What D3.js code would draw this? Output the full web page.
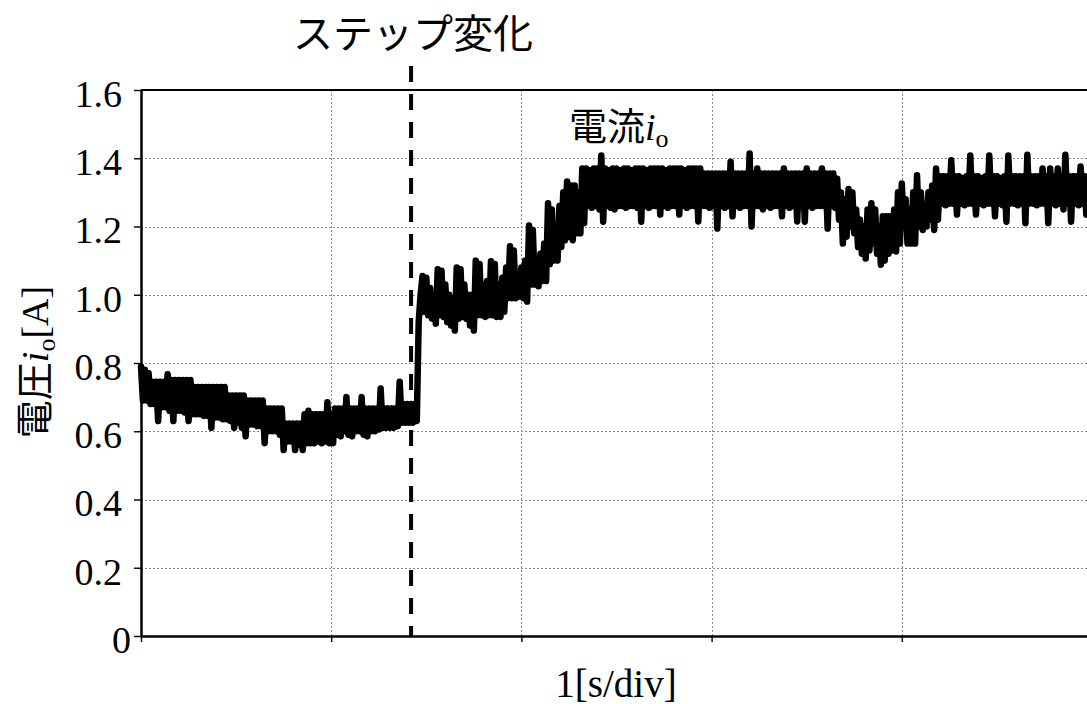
<!DOCTYPE html>
<html>
<head>
<meta charset="utf-8">
<script src="https://cdn.jsdelivr.net/npm/d3@7"></script>
<style>
  html, body { margin: 0; padding: 0; background: #fff; }
  svg { display: block; }
  text { font-family: "Liberation Serif", "Times New Roman", "Noto Sans CJK JP", serif; fill: #000; }
</style>
</head>
<body>
<svg id="chart" width="1087" height="704"></svg>
<script>
// Output current i_o [A], one sample every 10 ms over five 1 s divisions
const sampleInterval = 0.01;
const ioValues = [
  // 0.00 - 0.73 s : before the step
  0.79, 0.69, 0.78, 0.69, 0.77, 0.68, 0.745, 0.68, 0.745, 0.63,
  0.745, 0.67, 0.745, 0.67, 0.767, 0.66, 0.75, 0.63, 0.75, 0.66,
  0.75, 0.66, 0.75, 0.655, 0.75, 0.63, 0.75, 0.65, 0.73, 0.65,
  0.73, 0.65, 0.73, 0.645, 0.73, 0.645, 0.73, 0.61, 0.73, 0.64,
  0.73, 0.64, 0.73, 0.635, 0.73, 0.635, 0.705, 0.63, 0.705, 0.61,
  0.705, 0.625, 0.705, 0.61, 0.705, 0.585, 0.69, 0.62, 0.69, 0.62,
  0.69, 0.615, 0.69, 0.615, 0.69, 0.565, 0.667, 0.60, 0.667, 0.60,
  0.667, 0.60, 0.667, 0.59, 0.667, 0.545, 0.623, 0.57, 0.623, 0.57,
  0.623, 0.545, 0.623, 0.56, 0.623, 0.545, 0.65, 0.565, 0.66, 0.565,
  0.65, 0.565, 0.65, 0.57, 0.65, 0.565, 0.65, 0.57, 0.685, 0.565,
  0.65, 0.565, 0.667, 0.59, 0.667, 0.585, 0.667, 0.60, 0.70, 0.59,
  0.667, 0.585, 0.667, 0.60, 0.667, 0.60, 0.70, 0.59, 0.667, 0.585,
  0.667, 0.60, 0.667, 0.60, 0.667, 0.605, 0.725, 0.61, 0.667, 0.61,
  0.667, 0.61, 0.667, 0.61, 0.667, 0.615, 0.745, 0.625, 0.68, 0.625,
  0.68, 0.625, 0.68, 0.625, 0.68, 0.63,
  // step response
  0.92, 1.00,
  1.055, 0.95, 1.05, 0.94, 1.02, 0.93, 1.00, 0.915, 1.075, 0.94,
  1.07, 0.935, 1.03, 0.92, 1.00, 0.91, 0.99, 0.895, 1.08, 0.93,
  1.075, 0.935, 1.03, 0.93, 1.00, 0.91, 1.00, 0.895, 1.10, 0.94,
  1.09, 0.94, 1.03, 0.935, 1.04, 0.94, 1.098, 0.94, 1.09, 0.935,
  1.03, 0.935, 1.05, 0.95, 1.08, 0.99, 1.142, 0.99, 1.13, 0.99,
  1.06, 0.995, 1.08, 0.99, 1.10, 0.98, 1.203, 1.03, 1.19, 1.03,
  1.10, 1.025, 1.12, 1.04, 1.15, 1.04, 1.268, 1.09, 1.25, 1.10,
  1.18, 1.10, 1.26, 1.14, 1.30, 1.16, 1.332, 1.17, 1.32, 1.16,
  1.32, 1.18, 1.30, 1.18, 1.37, 1.21,
  // settled
  1.37, 1.26, 1.365, 1.255, 1.37, 1.26, 1.37, 1.25, 1.408, 1.214,
  1.37, 1.26, 1.365, 1.255, 1.37, 1.25, 1.37, 1.26, 1.365, 1.26,
  1.37, 1.255, 1.37, 1.26, 1.365, 1.26, 1.37, 1.255, 1.37, 1.214,
  1.37, 1.26, 1.365, 1.255, 1.37, 1.26, 1.37, 1.26, 1.37, 1.235,
  1.37, 1.26, 1.365, 1.255, 1.37, 1.26, 1.37, 1.26, 1.37, 1.235,
  1.37, 1.26, 1.365, 1.255, 1.37, 1.26, 1.37, 1.26, 1.37, 1.215,
  1.37, 1.26, 1.355, 1.26, 1.355, 1.255, 1.355, 1.26, 1.355, 1.194,
  1.355, 1.26, 1.355, 1.255, 1.355, 1.26, 1.39, 1.23, 1.355, 1.26,
  1.355, 1.255, 1.355, 1.26, 1.355, 1.26, 1.414, 1.20, 1.355, 1.26,
  1.37, 1.26, 1.355, 1.25, 1.355, 1.26, 1.355, 1.255, 1.355, 1.26,
  1.355, 1.26, 1.355, 1.23, 1.37, 1.26, 1.355, 1.255, 1.355, 1.26,
  1.355, 1.215, 1.355, 1.26, 1.355, 1.214, 1.37, 1.26, 1.355, 1.255,
  1.355, 1.26, 1.355, 1.26, 1.37, 1.26, 1.355, 1.194, 1.355, 1.26,
  1.355, 1.255, 1.34, 1.22,
  // load disturbance around 3.6 s
  1.30, 1.15, 1.28, 1.17, 1.31, 1.20, 1.30, 1.18, 1.25, 1.14,
  1.22, 1.12, 1.20, 1.106, 1.25, 1.13, 1.268, 1.15, 1.25, 1.12,
  1.20, 1.088, 1.23, 1.10, 1.23, 1.12, 1.23, 1.13, 1.25, 1.127,
  1.30, 1.15, 1.326, 1.20, 1.28, 1.15, 1.25, 1.15, 1.30, 1.15,
  1.35, 1.20, 1.30, 1.19, 1.26, 1.20, 1.30, 1.22, 1.32, 1.19,
  1.37, 1.22,
  // recovered
  1.347, 1.267, 1.347, 1.262, 1.347, 1.267, 1.394, 1.267, 1.347, 1.235,
  1.347, 1.267, 1.342, 1.262, 1.347, 1.267, 1.408, 1.267, 1.347, 1.235,
  1.347, 1.267, 1.342, 1.262, 1.347, 1.267, 1.408, 1.267, 1.347, 1.23,
  1.347, 1.267, 1.342, 1.262, 1.347, 1.214, 1.408, 1.267, 1.347, 1.267,
  1.347, 1.262, 1.347, 1.267, 1.347, 1.21, 1.41, 1.267, 1.347, 1.267,
  1.347, 1.262, 1.347, 1.267, 1.37, 1.267, 1.347, 1.21, 1.37, 1.267,
  1.347, 1.262, 1.37, 1.267, 1.347, 1.25, 1.41, 1.267, 1.347, 1.214,
  1.347, 1.267, 1.347, 1.262, 1.376, 1.267, 1.347, 1.235, 1.347, 1.267,
  1.347
];

// Moment of the step change (s)
const stepTime = 1.42;

const yTickValues = [0, 0.2, 0.4, 0.6, 0.8, 1.0, 1.2, 1.4, 1.6];
const yTickLabels = ["0", "0.2", "0.4", "0.6", "0.8", "1.0", "1.2", "1.4", "1.6"];
const xTickValues = [0, 1, 2, 3, 4, 5];

const svg = d3.select("#chart");
const plot = { left: 141, right: 1092, top: 90, bottom: 636 };

const x = d3.scaleLinear().domain([0, 5]).range([plot.left, plot.right]);
const y = d3.scaleLinear().domain([0, 1.6]).range([plot.bottom, plot.top]);

// Dotted grid
const grid = svg.append("g").attr("stroke", "#8a8a8a").attr("stroke-width", 1)
  .attr("stroke-dasharray", "2,2").attr("fill", "none");
grid.selectAll("line.h").data(yTickValues.filter(v => v > 0 && v < 1.6)).join("line")
  .attr("class", "h")
  .attr("x1", plot.left).attr("x2", plot.right)
  .attr("y1", d => Math.round(y(d)) + 0.5).attr("y2", d => Math.round(y(d)) + 0.5);
grid.selectAll("line.v").data(xTickValues.filter(v => v > 0)).join("line")
  .attr("class", "v")
  .attr("y1", plot.top).attr("y2", plot.bottom)
  .attr("x1", d => Math.round(x(d)) + 0.5).attr("x2", d => Math.round(x(d)) + 0.5);

// Top frame line
svg.append("line")
  .attr("x1", plot.left).attr("x2", plot.right)
  .attr("y1", y(1.6)).attr("y2", y(1.6))
  .attr("stroke", "#000").attr("stroke-width", 2);

// Y axis
const yAxis = svg.append("g")
  .attr("transform", `translate(${plot.left},0)`)
  .call(d3.axisLeft(y).tickValues(yTickValues)
    .tickFormat((d, i) => yTickLabels[i]).tickSize(7).tickSizeOuter(0).tickPadding(12));
yAxis.select(".domain").attr("stroke", "#000").attr("stroke-width", 2.5);
yAxis.selectAll(".tick line").attr("stroke", "#111").attr("stroke-width", 1.5);
yAxis.selectAll(".tick text")
  .attr("font-family", null).attr("font-size", 38).attr("dy", "0.43em")
  .attr("fill", "#000");
yAxis.selectAll(".tick text").filter(d => d === 0).attr("x", -10);

// X axis (division marks only)
const xAxis = svg.append("g")
  .attr("transform", `translate(0,${plot.bottom})`)
  .call(d3.axisBottom(x).tickValues(xTickValues).tickFormat("").tickSize(6).tickSizeOuter(0));
xAxis.select(".domain").attr("stroke", "#000").attr("stroke-width", 2.5);
xAxis.selectAll(".tick line").attr("stroke", "#111").attr("stroke-width", 1.5);

// Step change marker
svg.append("line")
  .attr("x1", x(stepTime)).attr("x2", x(stepTime))
  .attr("y1", 66).attr("y2", plot.bottom)
  .attr("stroke", "#000").attr("stroke-width", 4)
  .attr("stroke-dasharray", "16,12");

// Current waveform
const line = d3.line()
  .x((d, i) => x(i * sampleInterval))
  .y(d => y(d));
svg.append("path")
  .datum(ioValues)
  .attr("d", line)
  .attr("fill", "none")
  .attr("stroke", "#000")
  .attr("stroke-width", 6.5)
  .attr("stroke-linejoin", "round")
  .attr("stroke-linecap", "round");

// Annotations
svg.append("text")
  .attr("x", x(stepTime) + 2).attr("y", 48)
  .attr("text-anchor", "middle").attr("font-size", 40)
  .text("ステップ変化");

const curLabel = svg.append("text").attr("x", 569).attr("y", 140).attr("font-size", 38);
curLabel.append("tspan").text("電流");
curLabel.append("tspan").attr("font-style", "italic").text("i");
curLabel.append("tspan").attr("font-size", 26).attr("dy", 7).text("o");

// Axis titles
const yTitle = svg.append("text")
  .attr("transform", "translate(48,362) rotate(-90)")
  .attr("text-anchor", "middle").attr("font-size", 38);
yTitle.append("tspan").text("電圧");
yTitle.append("tspan").attr("font-style", "italic").text("i");
yTitle.append("tspan").attr("font-size", 26).attr("dy", 7).text("o");
yTitle.append("tspan").attr("dy", -7).text("[A]");

svg.append("text")
  .attr("x", 616).attr("y", 697)
  .attr("text-anchor", "middle").attr("font-size", 39)
  .text("1[s/div]");
</script>
</body>
</html>
